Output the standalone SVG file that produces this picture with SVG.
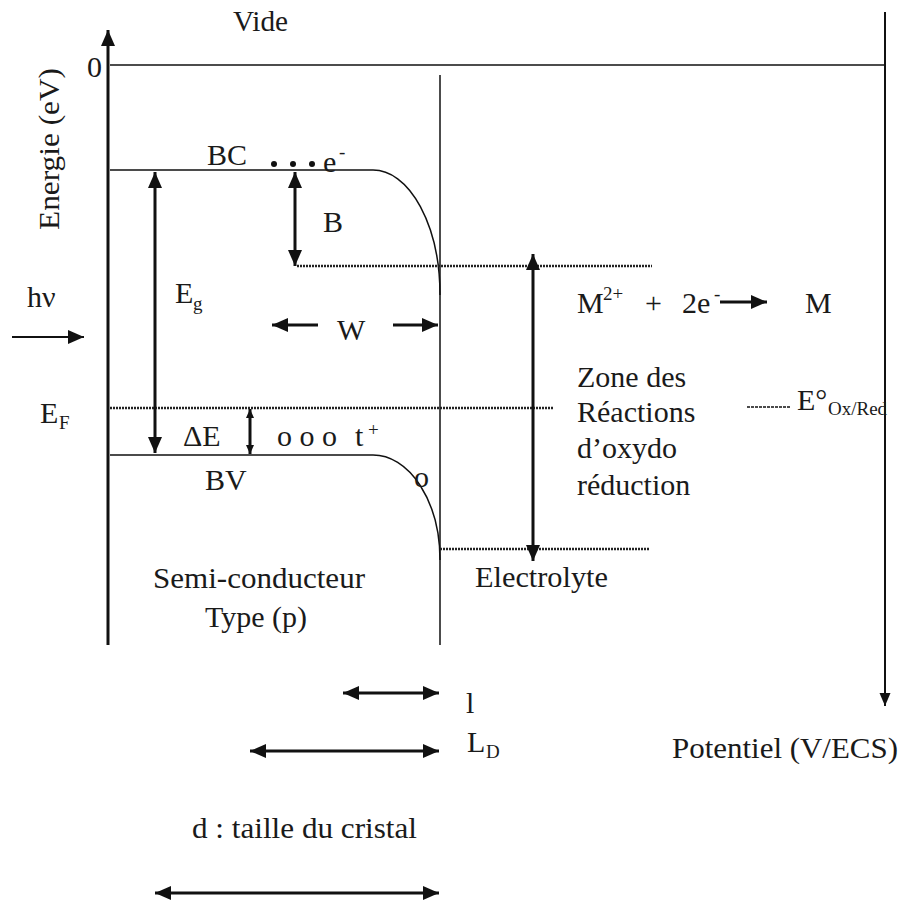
<svg xmlns="http://www.w3.org/2000/svg" width="904" height="906" viewBox="0 0 904 906">
<defs>
<style>
text{font-family:"Liberation Serif","Times New Roman",serif;font-size:30px;fill:#1a1a1a}
.sub{font-size:19px}
.ln{stroke:#111;fill:none}
.thick{stroke-width:3}
.thin{stroke-width:1.5}
.dot{stroke:#222;stroke-width:2.5;stroke-dasharray:2 1;fill:none}
</style>
<marker id="ah" markerUnits="userSpaceOnUse" markerWidth="18" markerHeight="16" refX="16" refY="7" orient="auto-start-reverse"><path d="M0,0 L16,7 L0,14 z" fill="#111"/></marker>
<marker id="ahs" markerUnits="userSpaceOnUse" markerWidth="10" markerHeight="10" refX="9" refY="4" orient="auto-start-reverse"><path d="M0,0 L9,4 L0,8 z" fill="#111"/></marker>
<marker id="aht" markerUnits="userSpaceOnUse" markerWidth="14" markerHeight="12" refX="13" refY="5.5" orient="auto-start-reverse"><path d="M0,0 L13,5.5 L0,11 z" fill="#111"/></marker>
</defs>
<rect width="904" height="906" fill="#fff"/>

<g id="axes">
<line class="ln thick" x1="108" y1="645" x2="108" y2="30" marker-end="url(#ah)"/>
<line class="ln thin" x1="110" y1="65" x2="885" y2="65"/>
<line class="ln" stroke-width="2" x1="885" y1="12" x2="885" y2="706" marker-end="url(#aht)"/>
<line class="ln thin" x1="440" y1="75" x2="440" y2="645"/>
</g>

<g id="bands">
<path class="ln thin" d="M110,170 H373 A67,125 0 0 1 440,295"/>
<path class="ln thin" d="M110,455 H373 A67,105 0 0 1 440,560"/>
<line class="dot" x1="297" y1="266" x2="652" y2="266"/>
<line class="dot" x1="110" y1="408" x2="553" y2="408"/>
<line class="dot" x1="440" y1="549" x2="649" y2="549"/>
<line class="ln" stroke-width="1.5" stroke-dasharray="3 1" x1="747" y1="407" x2="790" y2="407"/>
</g>

<g id="connectors">
<line class="ln thick" x1="155" y1="172" x2="155" y2="453" marker-start="url(#ah)" marker-end="url(#ah)"/>
<line class="ln thick" x1="295" y1="172" x2="295" y2="266" marker-start="url(#ah)" marker-end="url(#ah)"/>
<line class="ln thick" x1="250" y1="409" x2="250" y2="454" marker-start="url(#ahs)" marker-end="url(#ahs)"/>
<line class="ln thick" x1="533" y1="254" x2="533" y2="561" marker-start="url(#ah)" marker-end="url(#ah)"/>
<line class="ln thick" x1="318" y1="325" x2="272" y2="325" marker-end="url(#ah)"/>
<line class="ln thick" x1="393" y1="325" x2="438" y2="325" marker-end="url(#ah)"/>
<line class="ln" stroke-width="2" x1="12" y1="337" x2="84" y2="337" marker-end="url(#ah)"/>
<line class="ln thick" x1="720" y1="302" x2="767" y2="302" marker-end="url(#ah)"/>
<line class="ln thick" x1="343" y1="693" x2="439" y2="693" marker-start="url(#ah)" marker-end="url(#ah)"/>
<line class="ln thick" x1="250" y1="751" x2="439" y2="751" marker-start="url(#ah)" marker-end="url(#ah)"/>
<line class="ln thick" x1="155" y1="893" x2="439" y2="893" marker-start="url(#ah)" marker-end="url(#ah)"/>
</g>

<g id="dots">
<circle cx="274" cy="164" r="3" fill="#111"/>
<circle cx="293" cy="164" r="3" fill="#111"/>
<circle cx="312" cy="164" r="3" fill="#111"/>
</g>

<g id="labels">
<text x="233" y="31" textLength="55" lengthAdjust="spacingAndGlyphs">Vide</text>
<text x="87" y="77" font-size="26">0</text>
<text transform="translate(59,230) rotate(-90)" textLength="162" lengthAdjust="spacingAndGlyphs">Energie (eV)</text>
<text x="207" y="165">BC</text>
<text x="323" y="172">e</text><text x="339" y="158" class="sub">-</text>
<text x="323" y="232">B</text>
<text x="27" y="307">hν</text>
<text x="175" y="303">E</text><text x="193" y="310" class="sub">g</text>
<text x="337" y="340">W</text>
<text x="40" y="423">E</text><text x="59" y="429" class="sub">F</text>
<text x="183" y="446">ΔE</text>
<text x="277" y="446">o o o</text>
<text x="355" y="446">t</text><text x="368" y="436" class="sub">+</text>
<text x="205" y="490">BV</text>
<text x="414" y="487">o</text>
<text x="153" y="588" textLength="212" lengthAdjust="spacingAndGlyphs">Semi-conducteur</text>
<text x="205" y="627">Type (p)</text>
<text x="577" y="313">M</text><text x="603" y="300" class="sub">2+</text>
<text x="645" y="313">+</text>
<text x="682" y="313">2e</text><text x="714" y="300" class="sub">-</text>
<text x="805" y="313">M</text>
<text x="577" y="387">Zone des</text>
<text x="577" y="422">Réactions</text>
<text x="577" y="458">d’oxydo</text>
<text x="577" y="495">réduction</text>
<text x="797" y="410">E°</text><text x="828" y="415" class="sub">Ox/Red</text>
<text x="475" y="587" textLength="133" lengthAdjust="spacingAndGlyphs">Electrolyte</text>
<text x="466" y="713">l</text>
<text x="467" y="752">L</text><text x="486" y="758" class="sub" font-size="22">D</text>
<text x="192" y="838" textLength="225" lengthAdjust="spacingAndGlyphs">d : taille du cristal</text>
<text x="672" y="758" textLength="226" lengthAdjust="spacingAndGlyphs">Potentiel (V/ECS)</text>
</g>
</svg>
